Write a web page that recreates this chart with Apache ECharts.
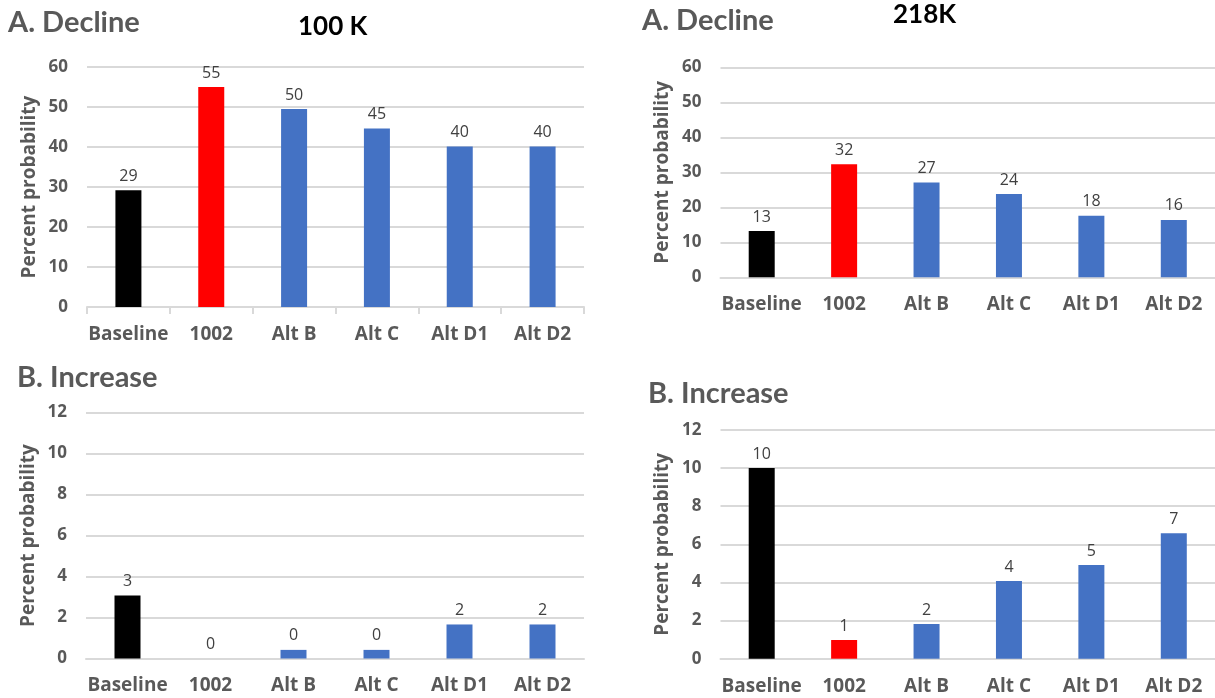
<!DOCTYPE html>
<html>
<head>
<meta charset="utf-8">
<script src="https://cdn.jsdelivr.net/npm/echarts@6/dist/echarts.min.js"></script>
<style>
html,body{margin:0;padding:0;background:#fff;}
#chart{width:1215px;height:698px;}
</style>
</head>
<body>
<div id="chart"></div>
<script>
const categories = ['Baseline', '1002', 'Alt B', 'Alt C', 'Alt D1', 'Alt D2'];
const decline100K = [29.2, 55.0, 49.5, 44.6, 40.1, 40.1];
const decline218K = [13.2, 32.3, 27.1, 23.8, 17.6, 16.4];
const increase100K = [3.07, 0, 0.42, 0.42, 1.66, 1.66];
const increase218K = [10.0, 0.98, 1.82, 4.08, 4.91, 6.58];
const declineTicks = [0, 60, 10];
const increaseTicks = [0, 12, 2];
const yName = 'Percent probability';

const barColors = ['#000000', '#ff0000', '#4472c4', '#4472c4', '#4472c4', '#4472c4'];
const grey = '#595959';
const gridGrey = '#d9d9d9';
const FONT = '"Open Sans", "Noto Sans", sans-serif';
const TFONT = 'Lato, "Open Sans", sans-serif';

const grids = [
  {left: 87, top: 67, width: 497, height: 240},
  {left: 720.5, top: 67.3, width: 498, height: 210},
  {left: 86, top: 412.5, width: 498, height: 246},
  {left: 720.5, top: 430, width: 498, height: 228.7}
];
const panels = [
  {data: decline100K, ticks: declineTicks, showTick: true},
  {data: decline218K, ticks: declineTicks, showTick: false},
  {data: increase100K, ticks: increaseTicks, showTick: false},
  {data: increase218K, ticks: increaseTicks, showTick: false}
];

const xAxis = panels.map((p, i) => ({
  type: 'category', gridIndex: i, data: categories,
  axisLine: {show: true, lineStyle: {color: gridGrey, width: 2}},
  axisTick: {show: p.showTick, length: 7, lineStyle: {color: gridGrey, width: 2}},
  axisLabel: {color: grey, fontWeight: 'bold', fontSize: 19, fontFamily: FONT, margin: 18, interval: 0}
}));
const yAxis = panels.map((p, i) => ({
  type: 'value', gridIndex: i, min: p.ticks[0], max: p.ticks[1], interval: p.ticks[2],
  name: yName, nameLocation: 'middle', nameGap: 48, nameRotate: 90,
  nameTextStyle: {color: grey, fontWeight: 'bold', fontSize: 19, fontFamily: FONT},
  axisLine: {show: false}, axisTick: {show: false},
  axisLabel: {color: grey, fontWeight: 'bold', fontSize: 17, fontFamily: FONT, margin: 19},
  splitLine: {show: true, lineStyle: {color: gridGrey, width: 2}}
}));
const series = panels.map((p, i) => ({
  type: 'bar', xAxisIndex: i, yAxisIndex: i, data: p.data, barWidth: 26,
  itemStyle: {color: (params) => barColors[params.dataIndex]},
  label: {show: true, position: 'top', distance: 6, color: '#404040', fontSize: 16, fontFamily: FONT,
    formatter: (params) => String(Math.round(params.value))},
  animation: false
}));

const titleStyle = {color: grey, fontWeight: 'bold', fontSize: 29, fontFamily: TFONT};
const subStyle = {color: '#000000', fontWeight: 'bold', fontSize: 26, fontFamily: TFONT};
const title = [
  {text: 'A. Decline', left: 8, top: 8, padding: 0, textStyle: titleStyle},
  {text: '100 K', left: 298, top: 14, padding: 0, textStyle: subStyle},
  {text: 'A. Decline', left: 642, top: 6, padding: 0, textStyle: titleStyle},
  {text: '218K', left: 893, top: 2, padding: 0, textStyle: subStyle},
  {text: 'B. Increase', left: 17, top: 363, padding: 0, textStyle: titleStyle},
  {text: 'B. Increase', left: 648, top: 379, padding: 0, textStyle: titleStyle}
];

const chart = echarts.init(document.getElementById('chart'), null, {renderer: 'canvas'});
chart.setOption({
  animation: false,
  backgroundColor: '#ffffff',
  title: title,
  grid: grids,
  xAxis: xAxis,
  yAxis: yAxis,
  series: series
});
</script>
</body>
</html>
